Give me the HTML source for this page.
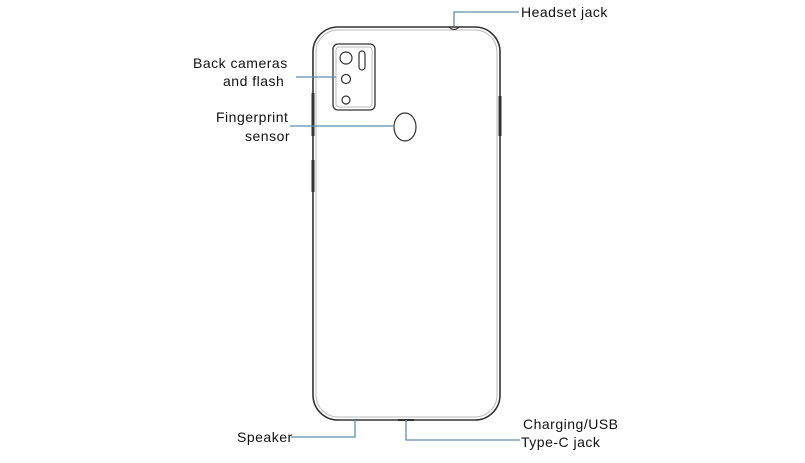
<!DOCTYPE html>
<html><head><style>
body{margin:0;background:#fff;width:805px;height:458px;overflow:hidden}
text{font-family:"Liberation Sans",sans-serif;font-size:14px;fill:#111;letter-spacing:0.5px}
</style></head><body>
<svg width="805" height="458" viewBox="0 0 805 458">
<g fill="none" stroke="#333" stroke-width="1.6">
<rect x="313" y="27" width="187" height="393" rx="25" ry="25"/>
<rect x="316" y="30" width="181" height="387" rx="22" ry="22" stroke="#bbb" stroke-width="1"/>
<rect x="333" y="44" width="42" height="66" rx="5" stroke-width="1.3"/>
<rect x="336" y="47" width="36" height="60" rx="3" stroke="#bbb" stroke-width="1"/>
<circle cx="346" cy="58" r="6" stroke-width="1.2"/>
<rect x="359" y="51" width="6" height="19" rx="3" stroke-width="1.2"/>
<circle cx="346" cy="79" r="4.5" stroke-width="1.2"/>
<circle cx="346" cy="100" r="4" stroke-width="1.2"/>
<ellipse cx="405" cy="127" rx="11" ry="14" stroke-width="1.2"/>
<path d="M449 27 q5 5 10 0" stroke-width="1.2"/>
<path d="M398 420 h16" stroke-width="2"/>
</g>
<g stroke="#333" stroke-width="3">
<line x1="313" y1="93" x2="313" y2="136"/>
<line x1="313" y1="160" x2="313" y2="192"/>
<line x1="500" y1="96" x2="500" y2="136"/>
</g>
<g fill="none" stroke="#5b8fb0" stroke-width="1.3">
<path d="M454 26 V12 H519"/>
<path d="M296 77 H336"/>
<path d="M290 126 H394"/>
<path d="M355 420 V437 H291"/>
<path d="M406 420 V440 H520"/>
</g>
<text x="521" y="17">Headset jack</text>
<text x="193" y="68">Back  cameras</text>
<text x="223" y="86">and  flash</text>
<text x="216" y="122">Fingerprint</text>
<text x="245" y="141">sensor</text>
<text x="237" y="442">Speaker</text>
<text x="523" y="429">Charging/USB</text>
<text x="521" y="447">Type-C jack</text>
</svg>
</body></html>
